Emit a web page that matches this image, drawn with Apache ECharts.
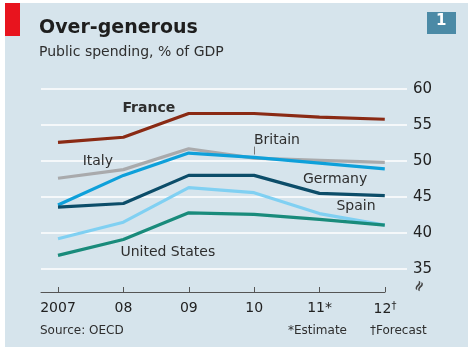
<!DOCTYPE html>
<html>
<head>
<meta charset="utf-8">
<script src="https://cdn.jsdelivr.net/npm/echarts@6/dist/echarts.min.js"></script>
<style>
  html, body { margin: 0; padding: 0; background: #ffffff; }
  #chart { width: 472px; height: 352px; }
</style>
</head>
<body>
<div id="chart"></div>
<script>
// years and tick labels
const years = [2007, 2008, 2009, 2010, 2011, 2012];
const yearLabels = ["2007", "08", "09", "10", "11*", "12†"];
const yTicks = [35, 40, 45, 50, 55, 60];

// public spending, % of GDP
const france = [52.6, 53.3, 56.6, 56.6, 56.1, 55.8];
const italy = [47.6, 48.8, 51.7, 50.4, 50.1, 49.8];
const britain = [43.9, 48.0, 51.1, 50.5, 49.7, 48.9];
const germany = [43.6, 44.1, 48.0, 48.0, 45.5, 45.2];
const spain = [39.2, 41.5, 46.3, 45.6, 42.7, 41.1];
const unitedStates = [36.9, 39.1, 42.8, 42.6, 41.9, 41.1];

const FONT = "DejaVu Sans";
const TEXT = "#2e2e2e";

const chart = echarts.init(document.getElementById("chart"));

function pairs(values) {
  return years.map((y, i) => [y, values[i]]);
}

function tag(name, coord, bold) {
  return {
    coord: coord,
    symbol: "rect",
    symbolSize: 1,
    itemStyle: { color: "transparent" },
    label: {
      show: true,
      position: "inside",
      formatter: name,
      color: TEXT,
      fontFamily: FONT,
      fontSize: 14,
      fontWeight: bold ? "bold" : "normal",
    },
  };
}

function line(name, values, color, label, extra) {
  return Object.assign({
    name: name,
    type: "line",
    xAxisIndex: 0,
    yAxisIndex: 0,
    data: pairs(values),
    symbol: "none",
    lineStyle: { color: color, width: 3.2 },
    itemStyle: { color: color },
    markPoint: { silent: true, data: [label] },
    animation: false,
  }, extra || {});
}

chart.setOption({
  backgroundColor: "#ffffff",
  animation: false,
  graphic: [
    { type: "rect", left: 5, top: 3, shape: { width: 463, height: 344 }, style: { fill: "#d6e4ec" }, z: -10 },
    { type: "rect", left: 5, top: 3, shape: { width: 15, height: 33 }, style: { fill: "#e8141e" } },
    { type: "rect", left: 427, top: 12, shape: { width: 29, height: 22 }, style: { fill: "#4b8aa6" } },
    { type: "text", left: 436, top: 14, style: { text: "1", fill: "#ffffff", font: "bold 15px " + FONT } },
    { type: "text", left: 39, top: 19, style: { text: "Over-generous", fill: "#1e1e1e", font: "bold 19px " + FONT } },
    { type: "text", left: 39, top: 45, style: { text: "Public spending, % of GDP", fill: TEXT, font: "14px " + FONT } },
    { type: "text", left: 40, top: 325, style: { text: "Source: OECD", fill: TEXT, font: "12px " + FONT } },
    { type: "text", left: 288, top: 325, style: { text: "*Estimate", fill: TEXT, font: "12px " + FONT } },
    { type: "text", left: 370, top: 325, style: { text: "†Forecast", fill: TEXT, font: "12px " + FONT } },
    { type: "text", left: 411, top: 278, rotation: 1.1, style: { text: "≈", fill: "#444444", font: "bold 14px " + FONT } },
  ],
  grid: [
    { left: 41, right: 65, top: 89, height: 180 },
    { left: 41, right: 87, top: 89, height: 180 },
  ],
  xAxis: [
    { type: "value", gridIndex: 0, min: 2006.74, max: 2012.34, show: false },
    {
      type: "value",
      gridIndex: 1,
      min: 2006.74,
      max: 2012,
      offset: 23,
      splitLine: { show: false },
      axisLine: { show: true, lineStyle: { color: "#555555", width: 1 } },
      axisTick: { show: true, inside: true, length: 5, customValues: years, lineStyle: { color: "#555555" } },
      axisLabel: {
        customValues: years,
        margin: 9,
        color: "#222222",
        fontFamily: FONT,
        fontSize: 14,
        formatter: (v) => {
          const s = yearLabels[years.indexOf(Math.round(v))] || "";
          return s.endsWith("†") ? s.slice(0, -1) + "{s|†}" : s;
        },
        rich: { s: { fontSize: 10, verticalAlign: "top", color: "#222222", fontFamily: FONT, padding: [0, 0, 6, 0] } },
      },
    },
  ],
  yAxis: [
    {
      type: "value",
      gridIndex: 0,
      position: "right",
      min: 35,
      max: 60,
      interval: 5,
      axisLine: { show: false },
      axisTick: { show: false },
      splitLine: { show: true, lineStyle: { color: "#ffffff", width: 1.5 } },
      axisLabel: {
        margin: 6,
        color: "#222222",
        fontFamily: FONT,
        fontSize: 15,
        formatter: (v) => (yTicks.includes(v) ? String(v) : ""),
      },
    },
    { type: "value", gridIndex: 1, min: 35, max: 60, show: false },
  ],
  series: [
    line("France", france, "#8a2a14", tag("France", [2008.39, 57.25], true)),
    line("Italy", italy, "#a9aaac", tag("Italy", [2007.61, 49.95]), {
      markLine: {
        silent: true,
        symbol: "none",
        label: { show: false },
        lineStyle: { color: "#777777", width: 1, type: "solid" },
        data: [[{ coord: [2010, 52.0] }, { coord: [2010, 50.9] }]],
      },
    }),
    line("Britain", britain, "#0ea0da", tag("Britain", [2010.35, 52.8])),
    line("Germany", germany, "#0c4d69", tag("Germany", [2011.24, 47.4])),
    line("Spain", spain, "#80d0f2", tag("Spain", [2011.56, 43.65])),
    line("United States", unitedStates, "#198b7b", tag("United States", [2008.68, 37.26])),
  ],
});
</script>
</body>
</html>
